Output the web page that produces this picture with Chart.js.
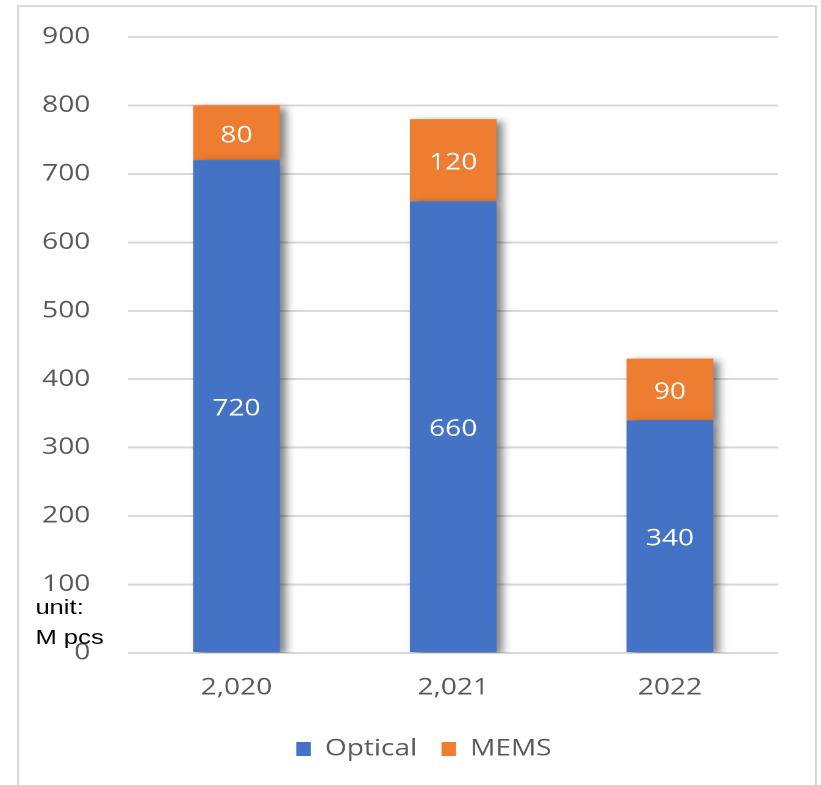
<!DOCTYPE html>
<html>
<head>
<meta charset="utf-8">
<script src="https://cdn.jsdelivr.net/npm/chart.js@4.4.1/dist/chart.umd.min.js"></script>
<style>
  html, body { margin: 0; padding: 0; background: #fff; }
  #page { position: relative; width: 821px; height: 785px; overflow: hidden; }
  #frame { position: absolute; left: 17px; top: 5px; width: 796px; height: 800px; border: 2px solid #d9d9d9; }
  #wrap { position: absolute; left: 0; top: 0; width: 673px; height: 785px; transform: scaleX(1.2199); transform-origin: 0 0; }
  #unit { position: absolute; left: 29px; top: 592px; font: 21px "Liberation Sans", Arial, sans-serif; line-height: 30px; color: #000; }
</style>
</head>
<body>
<div id="page">
  <div id="frame"></div>
  <div id="wrap">
    <canvas id="mycanvas"></canvas>
    <div id="unit">unit:<br>M pcs</div>
  </div>
</div>
<script>
var years = ['2,020', '2,021', '2022'];
var optical = [720, 660, 340];
var mems = [80, 120, 90];
var yTicks = [0, 100, 200, 300, 400, 500, 600, 700, 800, 900];

var fontName = '"Open Sans", "Noto Sans", sans-serif';

// soft grey shadow to the right of each bar (offsets are in device pixels)
var barShadow = {
  id: 'barShadow',
  beforeDatasetDraw: function(chart) {
    var ctx = chart.ctx;
    ctx.save();
    ctx.shadowColor = 'rgba(0,0,0,0.5)';
    ctx.shadowBlur = 14;
    ctx.shadowOffsetX = 10;
    ctx.shadowOffsetY = 5;
  },
  afterDatasetDraw: function(chart) {
    chart.ctx.restore();
  }
};

// white value labels in the middle of each segment
var valueLabels = {
  id: 'valueLabels',
  afterDatasetsDraw: function(chart) {
    var ctx = chart.ctx;
    ctx.save();
    ctx.fillStyle = '#ffffff';
    ctx.font = '23px ' + fontName;
    ctx.textAlign = 'center';
    ctx.textBaseline = 'middle';
    chart.data.datasets.forEach(function(ds, i) {
      var meta = chart.getDatasetMeta(i);
      meta.data.forEach(function(bar, j) {
        ctx.fillText(ds.data[j], bar.x, (bar.y + bar.base) / 2 + 3);
      });
    });
    ctx.restore();
  }
};

// legend sits a bit right of the canvas centre in the original
var legendShift = {
  id: 'legendShift',
  afterLayout: function(chart) {
    if (chart.legend) {
      chart.legend.left += 28.5;
      chart.legend.right += 28.5;
    }
  }
};

var ctx = document.getElementById('mycanvas');
new Chart(ctx, {
  type: 'bar',
  data: {
    labels: years,
    datasets: [
      { label: 'Optical', data: optical, backgroundColor: '#4472C4' },
      { label: 'MEMS', data: mems, backgroundColor: '#ED7D31' }
    ]
  },
  options: {
    responsive: true,
    maintainAspectRatio: false,
    animation: false,
    devicePixelRatio: 2,
    categoryPercentage: 1,
    barPercentage: 0.4,
    layout: { padding: { top: 0, right: 35, bottom: 14.5, left: 0 } },
    scales: {
      x: {
        stacked: true,
        grid: { display: false, drawTicks: false },
        border: { display: false },
        afterFit: function(scale) { scale.height = 64.5; },
        ticks: { color: '#595959', font: { family: fontName, size: 23 }, padding: 21 }
      },
      y: {
        stacked: true,
        min: 0,
        max: 900,
        afterBuildTicks: function(scale) {
          scale.ticks = yTicks.map(function(v) { return { value: v }; });
        },
        afterFit: function(scale) { scale.width = 105; },
        grid: { color: '#d9d9d9', lineWidth: 2, drawTicks: false },
        border: { display: false },
        ticks: { color: '#595959', font: { family: fontName, size: 23, lineHeight: 0.52 }, padding: 31 }
      }
    },
    plugins: {
      legend: {
        position: 'bottom',
        labels: {
          color: '#595959',
          font: { family: fontName, size: 23 },
          boxWidth: 12,
          boxHeight: 14,
          padding: 20
        }
      },
      tooltip: { enabled: false }
    }
  },
  plugins: [barShadow, valueLabels, legendShift]
});
</script>
</body>
</html>
